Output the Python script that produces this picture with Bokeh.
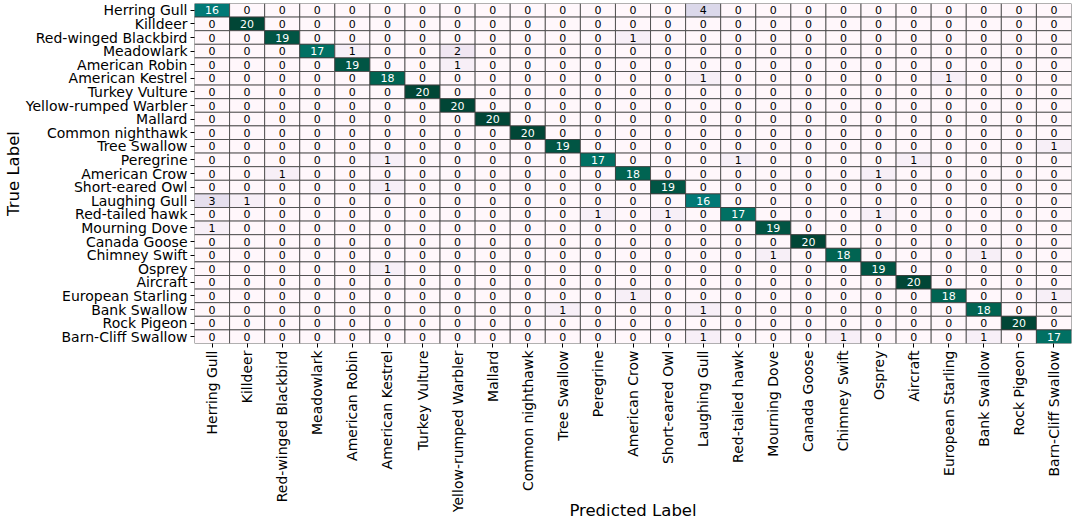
import math
import numpy as np
from bokeh.plotting import figure
from bokeh.models import ColumnDataSource
from bokeh.embed import file_html
from bokeh.resources import INLINE
from bokeh.core.properties import value

classes = ["Herring Gull", "Killdeer", "Red-winged Blackbird", "Meadowlark", "American Robin",
           "American Kestrel", "Turkey Vulture", "Yellow-rumped Warbler", "Mallard", "Common nighthawk",
           "Tree Swallow", "Peregrine", "American Crow", "Short-eared Owl", "Laughing Gull",
           "Red-tailed hawk", "Mourning Dove", "Canada Goose", "Chimney Swift", "Osprey",
           "Aircraft", "European Starling", "Bank Swallow", "Rock Pigeon", "Barn-Cliff Swallow"]

counts = [
    [16,0,0,0,0, 0,0,0,0,0, 0,0,0,0,4, 0,0,0,0,0, 0,0,0,0,0],
    [0,20,0,0,0, 0,0,0,0,0, 0,0,0,0,0, 0,0,0,0,0, 0,0,0,0,0],
    [0,0,19,0,0, 0,0,0,0,0, 0,0,1,0,0, 0,0,0,0,0, 0,0,0,0,0],
    [0,0,0,17,1, 0,0,2,0,0, 0,0,0,0,0, 0,0,0,0,0, 0,0,0,0,0],
    [0,0,0,0,19, 0,0,1,0,0, 0,0,0,0,0, 0,0,0,0,0, 0,0,0,0,0],
    [0,0,0,0,0, 18,0,0,0,0, 0,0,0,0,1, 0,0,0,0,0, 0,1,0,0,0],
    [0,0,0,0,0, 0,20,0,0,0, 0,0,0,0,0, 0,0,0,0,0, 0,0,0,0,0],
    [0,0,0,0,0, 0,0,20,0,0, 0,0,0,0,0, 0,0,0,0,0, 0,0,0,0,0],
    [0,0,0,0,0, 0,0,0,20,0, 0,0,0,0,0, 0,0,0,0,0, 0,0,0,0,0],
    [0,0,0,0,0, 0,0,0,0,20, 0,0,0,0,0, 0,0,0,0,0, 0,0,0,0,0],
    [0,0,0,0,0, 0,0,0,0,0, 19,0,0,0,0, 0,0,0,0,0, 0,0,0,0,1],
    [0,0,0,0,0, 1,0,0,0,0, 0,17,0,0,0, 1,0,0,0,0, 1,0,0,0,0],
    [0,0,1,0,0, 0,0,0,0,0, 0,0,18,0,0, 0,0,0,0,1, 0,0,0,0,0],
    [0,0,0,0,0, 1,0,0,0,0, 0,0,0,19,0, 0,0,0,0,0, 0,0,0,0,0],
    [3,1,0,0,0, 0,0,0,0,0, 0,0,0,0,16, 0,0,0,0,0, 0,0,0,0,0],
    [0,0,0,0,0, 0,0,0,0,0, 0,1,0,1,0, 17,0,0,0,1, 0,0,0,0,0],
    [1,0,0,0,0, 0,0,0,0,0, 0,0,0,0,0, 0,19,0,0,0, 0,0,0,0,0],
    [0,0,0,0,0, 0,0,0,0,0, 0,0,0,0,0, 0,0,20,0,0, 0,0,0,0,0],
    [0,0,0,0,0, 0,0,0,0,0, 0,0,0,0,0, 0,1,0,18,0, 0,0,1,0,0],
    [0,0,0,0,0, 1,0,0,0,0, 0,0,0,0,0, 0,0,0,0,19, 0,0,0,0,0],
    [0,0,0,0,0, 0,0,0,0,0, 0,0,0,0,0, 0,0,0,0,0, 20,0,0,0,0],
    [0,0,0,0,0, 0,0,0,0,0, 0,0,1,0,0, 0,0,0,0,0, 0,18,0,0,1],
    [0,0,0,0,0, 0,0,0,0,0, 1,0,0,0,1, 0,0,0,0,0, 0,0,18,0,0],
    [0,0,0,0,0, 0,0,0,0,0, 0,0,0,0,0, 0,0,0,0,0, 0,0,0,20,0],
    [0,0,0,0,0, 0,0,0,0,0, 0,0,0,0,1, 0,0,0,1,0, 0,0,1,0,17],
]

# PuBuGn colormap anchors
cmap_hex = ["#fff7fb", "#ece2f0", "#d0d1e6", "#a6bddb", "#67a9cf",
            "#3690c0", "#02818a", "#016c59", "#014636"]
vmax = 20.0

def hex2rgb(h):
    return np.array([int(h[i:i+2], 16) for i in (1, 3, 5)], dtype=float)

anchors = np.array([hex2rgb(h) for h in cmap_hex])

def colour(v):
    t = min(max(v / vmax, 0.0), 1.0) * (len(anchors) - 1)
    i = min(int(np.floor(t)), len(anchors) - 2)
    f = t - i
    return anchors[i] * (1 - f) + anchors[i + 1] * f

def lum(rgb):
    c = rgb / 255.0
    c = np.where(c <= 0.03928, c / 12.92, ((c + 0.055) / 1.055) ** 2.4)
    return 0.2126 * c[0] + 0.7152 * c[1] + 0.0722 * c[2]

xs, ys, vals, fills, tcols = [], [], [], [], []
for r, true_lab in enumerate(classes):
    for c, pred_lab in enumerate(classes):
        v = counts[r][c]
        rgb = colour(v)
        xs.append(pred_lab)
        ys.append(true_lab)
        vals.append(str(v))
        fills.append("#%02x%02x%02x" % tuple(int(round(x)) for x in rgb))
        tcols.append("#000000" if lum(rgb) > 0.408 else "#ffffff")

src = ColumnDataSource(dict(x=xs, y=ys, v=vals, fill=fills, tc=tcols))

p = figure(x_range=classes, y_range=list(reversed(classes)),
           width=1079, height=523, output_backend="svg", toolbar_location=None,
           min_border_top=3, min_border_right=8, min_border_left=0, min_border_bottom=0)

p.rect(x="x", y="y", width=1, height=1, source=src, fill_color="fill",
       line_color="#3c3c3c", line_width=0.8)
p.text(x="x", y="y", text="v", source=src, text_color="tc",
       text_align="center", text_baseline="middle", text_font_size="11px",
       text_font=value("DejaVu Sans"))

p.grid.visible = False
p.outline_line_color = None
for ax in (p.xaxis[0], p.yaxis[0]):
    ax.axis_line_color = None
    ax.major_tick_out = 4
    ax.major_tick_in = 0
    ax.major_tick_line_color = "#000000"
    ax.major_label_text_font = "DejaVu Sans"
    ax.major_label_text_font_size = "14px"
    ax.major_label_text_color = "#000000"
    ax.major_label_standoff = 3
    ax.axis_label_text_font = "DejaVu Sans"
    ax.axis_label_text_font_size = "16.5px"
    ax.axis_label_text_font_style = "normal"
    ax.axis_label_text_color = "#000000"

p.xaxis.major_label_orientation = math.pi / 2
p.xaxis.axis_label = "Predicted Label"
p.yaxis.axis_label = "True Label"
p.xaxis.axis_label_standoff = -14
p.yaxis.axis_label_standoff = 0

open("out.html", "w").write(file_html(p, INLINE))
